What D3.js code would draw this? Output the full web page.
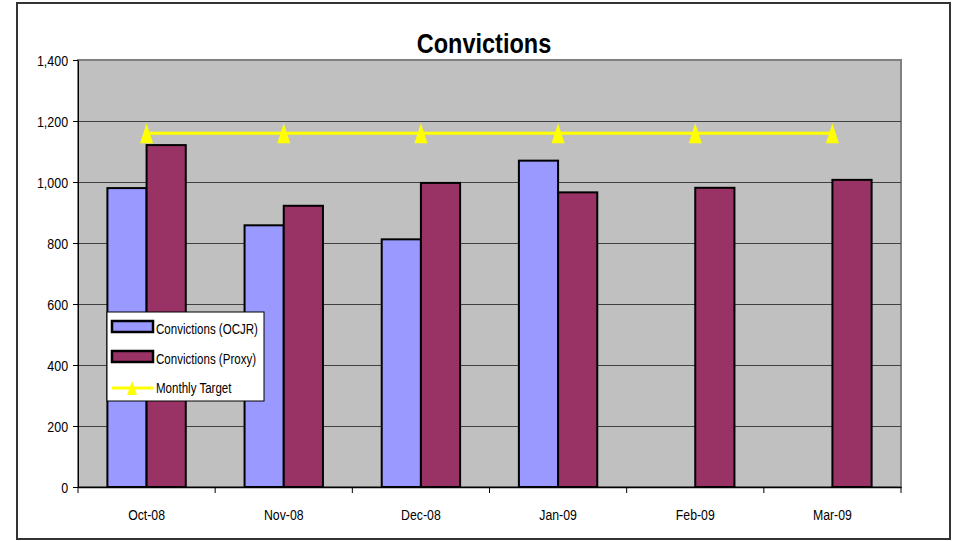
<!DOCTYPE html>
<meta charset="utf-8">
<style>
    body { margin: 0; background: #fff; }
    text { font-family: "Liberation Sans", Arial, sans-serif; }
    .grid line { stroke: #404040; stroke-width: 1px; }
</style>
<svg width="953" height="541"></svg>
<script src="https://cdn.jsdelivr.net/npm/d3@7"></script>
<script>

    var months = ["Oct-08", "Nov-08", "Dec-08", "Jan-09", "Feb-09", "Mar-09"];
    var ocjr = [980, 858, 812, 1070, null, null];
    var proxy = [1121, 922, 997, 966, 981, 1007];
    var target = [1160, 1160, 1160, 1160, 1160, 1160];
    var yTicks = [0, 200, 400, 600, 800, 1000, 1200, 1400];
    var seriesNames = ["Convictions (OCJR)", "Convictions (Proxy)"];
    var seriesColors = ["#9999ff", "#993366"];

    var svg = d3.select("svg"),
        width = +svg.attr("width"),
        height = +svg.attr("height");

    var plotL = 78, plotR = 901, plotT = 60, plotB = 487;

    // tall narrow triangle marker, centred on (0,0)
    function triPath(w, h) {
        return "M0," + (-h / 2) + "L" + (w / 2) + "," + (h / 2) + "L" + (-w / 2) + "," + (h / 2) + "Z";
    }

    // outer chart frame
    svg.append("rect")
        .attr("x", 17).attr("y", 3)
        .attr("width", 933).attr("height", 536)
        .attr("fill", "#fff")
        .attr("stroke", "#333")
        .attr("stroke-width", 2);

    var x0 = d3.scaleBand().domain(months).range([plotL, plotR]).paddingInner(0).paddingOuter(0);
    var x1 = d3.scaleBand().domain([0, 1]).range([0, x0.bandwidth()]).paddingInner(0).paddingOuter(0.75);
    var y = d3.scaleLinear().domain([0, 1400]).range([plotB, plotT]);

    // plot area
    svg.append("rect")
        .attr("x", plotL).attr("y", plotT)
        .attr("width", plotR - plotL).attr("height", plotB - plotT)
        .attr("fill", "#c0c0c0")
        .attr("stroke", "#808080")
        .attr("stroke-width", 2);

    svg.append("g")
        .attr("class", "grid")
        .selectAll("line")
        .data(yTicks.filter(function(d) { return d > 0 && d < 1400; }))
        .enter()
        .append("line")
        .attr("x1", plotL).attr("x2", plotR)
        .attr("y1", function(d) { return Math.round(y(d)) + 0.5; })
        .attr("y2", function(d) { return Math.round(y(d)) + 0.5; });

    // bars
    var rows = months.map(function(m, i) { return { month: m, vals: [ocjr[i], proxy[i]] }; });

    svg.append("g")
        .selectAll("g")
        .data(rows)
        .enter()
        .append("g")
        .attr("transform", function(d) { return "translate(" + x0(d.month) + ",0)"; })
        .selectAll("rect")
        .data(function(d) { return d.vals.map(function(v, k) { return { k: k, v: v }; }).filter(function(e) { return e.v != null; }); })
        .enter()
        .append("rect")
        .attr("x", function(d) { return x1(d.k); })
        .attr("width", x1.bandwidth())
        .attr("y", function(d) { return y(d.v); })
        .attr("height", function(d) { return y(0) - y(d.v); })
        .attr("fill", function(d) { return seriesColors[d.k]; })
        .attr("stroke", "#000")
        .attr("stroke-width", 2);

    // target line
    var line = d3.line()
        .x(function(d, i) { return x0(months[i]) + x0.bandwidth() / 2; })
        .y(function(d) { return y(d); });

    svg.append("path")
        .datum(target)
        .attr("d", line)
        .attr("fill", "none")
        .attr("stroke", "#ffff00")
        .attr("stroke-width", 3);

    svg.append("g")
        .selectAll("path")
        .data(target)
        .enter()
        .append("path")
        .attr("d", triPath(13, 20))
        .attr("transform", function(d, i) { return "translate(" + (x0(months[i]) + x0.bandwidth() / 2) + "," + y(d) + ")"; })
        .attr("fill", "#ffff00");

    // axes
    var yAxis = svg.append("g")
        .attr("transform", "translate(" + plotL + ",0)")
        .call(d3.axisLeft(y).tickValues(yTicks).tickFormat(d3.format(",")).tickSize(5).tickSizeOuter(0).tickPadding(5));
    yAxis.select(".domain").attr("stroke", "#000");
    yAxis.selectAll(".tick text")
        .attr("font-size", 15).attr("font-family", null).attr("fill", "#000")
        .attr("x", -12).attr("dy", "0.36em")
        .attr("transform", "scale(0.83,1)");

    var xAxis = svg.append("g")
        .attr("transform", "translate(0," + plotB + ")")
        .call(d3.axisBottom(x0).tickSize(0).tickSizeOuter(0).tickPadding(21));
    xAxis.select(".domain").attr("stroke", "#000").attr("stroke-width", 1.5);
    xAxis.selectAll(".tick text")
        .attr("font-size", 15).attr("font-family", null).attr("fill", "#000")
        .attr("y", 22)
        .attr("transform", "scale(0.82,1)");

    svg.append("g")
        .selectAll("line")
        .data(months.concat(["end"]))
        .enter()
        .append("line")
        .attr("x1", function(d) { return d === "end" ? plotR : x0(d); })
        .attr("x2", function(d) { return d === "end" ? plotR : x0(d); })
        .attr("y1", plotB)
        .attr("y2", plotB + 6)
        .attr("stroke", "#000");

    // title
    svg.append("text")
        .attr("transform", "translate(484,53) scale(0.84,1)")
        .attr("text-anchor", "middle")
        .attr("font-size", 28)
        .attr("font-weight", "bold")
        .text("Convictions");

    // legend
    var legend = svg.append("g").attr("transform", "translate(107,312)");
    legend.append("rect")
        .attr("width", 157).attr("height", 89)
        .attr("fill", "#fff")
        .attr("stroke", "#000")
        .attr("stroke-width", 1);

    seriesNames.forEach(function(name, k) {
        legend.append("rect")
            .attr("x", 5).attr("y", 9 + k * 30)
            .attr("width", 41).attr("height", 11)
            .attr("fill", seriesColors[k])
            .attr("stroke", "#000")
            .attr("stroke-width", 2.5);
        legend.append("text")
            .attr("transform", "translate(49," + (22 + k * 29.5) + ") scale(0.77,1)")
            .attr("font-size", 15)
            .text(name);
    });
    legend.append("line")
        .attr("x1", 5).attr("x2", 46)
        .attr("y1", 76).attr("y2", 76)
        .attr("stroke", "#ffff00")
        .attr("stroke-width", 3);
    legend.append("path")
        .attr("d", triPath(10, 14))
        .attr("transform", "translate(25,76)")
        .attr("fill", "#ffff00");
    legend.append("text")
        .attr("transform", "translate(49,81) scale(0.77,1)")
        .attr("font-size", 15)
        .text("Monthly Target");

</script>
